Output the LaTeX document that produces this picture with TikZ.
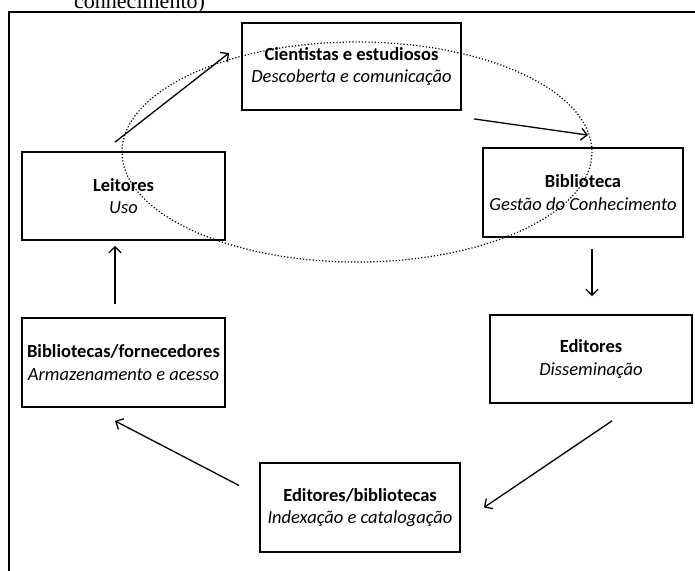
\documentclass[tikz,border=0pt]{standalone}
\usepackage{fontspec}
\setmainfont{Carlito}
\newfontfamily\capfont{Liberation Serif}
\usetikzlibrary{arrows.meta,calc}
\tikzset{
  stage/.style={draw, line width=1.8pt, rectangle, minimum width=203pt,
    minimum height=88pt, align=center, inner sep=0pt,
    font=\fontsize{18.5}{22.5}\selectfont},
  flow/.style={line width=1.3pt, -{Straight Barb[length=6pt,width=12pt,line width=1.3pt]}},
  loop/.style={line width=1.2pt, dotted}
}
\newcommand{\stagetext}[2]{\textbf{#1}\\\textit{#2}}
\begin{document}
\begin{tikzpicture}[x=1pt,y=-1pt]
  \useasboundingbox (0,0) rectangle (695,570);
  \clip (0,0) rectangle (695,570);
  % caption line running in from above
  \node[anchor=base west, inner sep=0pt, font=\capfont\fontsize{22}{24}\selectfont] (cap) at (74,9) {conhecimento)};
  % outer frame
  \draw[line width=2pt] (9,600) -- (9,12) -- (720,12);

  \node[stage, minimum width=219pt, minimum height=87pt] (sci) at (351.5,66.5)
    {\stagetext{Cientistas e estudiosos}{Descoberta e comunicação}};
  \node[stage] (lei) at (123.5,196) {\stagetext{Leitores}{Uso}};
  \node[stage, minimum width=200pt, minimum height=89pt] (bib) at (583,192.5)
    {\stagetext{Biblioteca}{Gestão do Conhecimento}};
  \node[stage, minimum height=89pt] (forn) at (123.5,362.5)
    {\stagetext{Bibliotecas/fornecedores}{Armazenamento e acesso}};
  \node[stage, minimum width=202pt] (edi) at (591,359)
    {\stagetext{Editores}{Disseminação}};
  \node[stage, minimum width=200pt, minimum height=89pt] (idx) at (360,507.5)
    {\stagetext{Editores/bibliotecas}{Indexação e catalogação}};

  % cycle of arrows
  \draw[flow] ([shift={(-8.5pt,9pt)}]lei.north) -- ([shift={(-12pt,13.5pt)}]sci.west);
  \draw[flow] ([shift={(12pt,-8pt)}]sci.south east) -- ([shift={(5pt,12pt)}]bib.north);
  \draw[flow] ([shift={(9pt,-11pt)}]bib.south) -- ([shift={(1pt,18pt)}]edi.north);
  \draw[flow] ([shift={(21pt,-17pt)}]edi.south) -- ([shift={(23pt,0pt)}]idx.east);
  \draw[flow] ([shift={(-20pt,22pt)}]idx.west) -- ([shift={(-8.5pt,-13pt)}]forn.south);
  \draw[flow] ([shift={(-8.5pt,13pt)}]forn.north) -- ([shift={(-8.5pt,-5pt)}]lei.south);

  % dotted loop around the knowledge core
  \draw[loop] (357,152) ellipse [x radius=235, y radius=110];
\end{tikzpicture}
\end{document}
